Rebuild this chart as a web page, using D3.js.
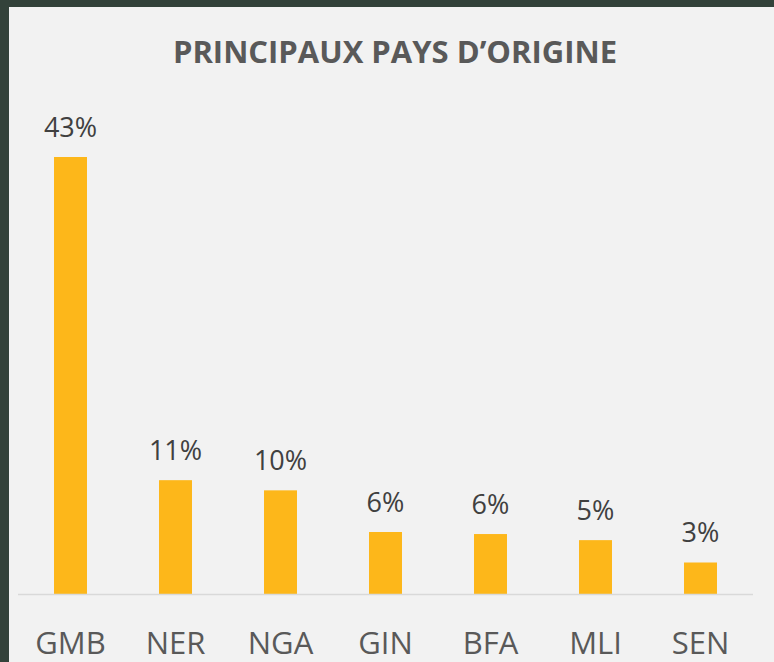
<!DOCTYPE html>
<html>
<head>
<meta charset="utf-8">
<script src="https://cdn.jsdelivr.net/npm/d3@7"></script>
<style>
  body { margin: 0; background: #33423a; }
  svg { display: block; }
</style>
</head>
<body>
<div id="chart"></div>
<script>
var categories = ["GMB", "NER", "NGA", "GIN", "BFA", "MLI", "SEN"];
var shares = [43, 11.2, 10.2, 6.1, 5.9, 5.3, 3.1];
var titleText = "PRINCIPAUX PAYS D\u2019ORIGINE";

var WIDTH = 774,
    HEIGHT = 662,
    PANEL = {x: 9, y: 7},
    MARGINS = {top: 157, right: 21, bottom: 68, left: 18};

var svg = d3.select("#chart").append("svg")
  .attr("width", WIDTH)
  .attr("height", HEIGHT);

svg.append("rect")
  .attr("x", 0).attr("y", 0)
  .attr("width", WIDTH).attr("height", HEIGHT)
  .attr("fill", "#33423a");

svg.append("rect")
  .attr("x", PANEL.x).attr("y", PANEL.y)
  .attr("width", WIDTH - PANEL.x).attr("height", HEIGHT - PANEL.y)
  .attr("fill", "#f2f2f2");

svg.append("text")
  .attr("x", 395)
  .attr("y", 63)
  .style("text-anchor", "middle")
  .style("font-family", "'Open Sans', sans-serif")
  .style("font-weight", "bold")
  .style("font-size", "31px")
  .style("fill", "#595959")
  .text(titleText);

var baseY = HEIGHT - MARGINS.bottom;

var x = d3.scaleBand()
  .domain(categories)
  .range([MARGINS.left, WIDTH - MARGINS.right])
  .paddingInner(0.686)
  .paddingOuter(0.343);

var y = d3.scaleLinear()
  .domain([0, 43])
  .range([baseY, MARGINS.top]);

var data = categories.map(function(c, i) { return {cat: c, v: shares[i]}; });

svg.selectAll(".bar")
  .data(data)
  .enter().append("rect")
    .attr("class", "bar")
    .attr("x", function(d) { return x(d.cat); })
    .attr("y", function(d) { return y(d.v); })
    .attr("width", x.bandwidth())
    .attr("height", function(d) { return baseY - y(d.v); })
    .attr("fill", "#fdb71a");

// baseline
svg.append("line")
  .attr("x1", MARGINS.left)
  .attr("x2", WIDTH - MARGINS.right)
  .attr("y1", baseY + 0.5)
  .attr("y2", baseY + 0.5)
  .attr("stroke", "#d9d9d9")
  .attr("stroke-width", 1.5);

svg.selectAll(".val")
  .data(data)
  .enter().append("text")
    .attr("class", "val")
    .attr("x", function(d) { return x(d.cat) + x.bandwidth() / 2; })
    .attr("y", function(d) { return y(d.v) - 20; })
    .style("text-anchor", "middle")
    .style("font-family", "'Open Sans', sans-serif")
    .style("font-size", "27px")
    .style("fill", "#404040")
    .text(function(d) { return d3.format(".0f")(d.v) + "%"; });

var xAxis = d3.axisBottom(x).tickSize(0).tickPadding(38);

var gx = svg.append("g")
  .attr("transform", "translate(0," + baseY + ")")
  .call(xAxis);
gx.select(".domain").remove();
gx.selectAll("text")
  .style("font-family", "'Open Sans', sans-serif")
  .style("font-size", "31px")
  .style("fill", "#595959");
</script>
</body>
</html>
